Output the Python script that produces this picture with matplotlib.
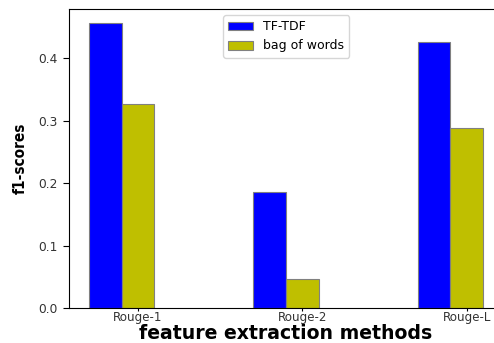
import matplotlib
matplotlib.use("Agg")
import matplotlib.pyplot as plt
import numpy as np

# scores
methods = ["Rouge-1", "Rouge-2", "Rouge-L"]
tfidf = [0.456, 0.185, 0.426]
bow = [0.327, 0.046, 0.289]

X = np.arange(len(methods))
w = 0.2

fig = plt.figure(figsize=(4.94, 3.43), dpi=100)
# axes runs past the right edge, like the cropped original
ax = fig.add_axes([69 / 494, 35 / 343, 434 / 494, 299 / 343])

ax.bar(X, tfidf, width=w, color="b", edgecolor="grey", linewidth=0.8, label="TF-TDF")
ax.bar(X + w, bow, width=w, color="y", edgecolor="grey", linewidth=0.8, label="bag of words")

ax.set_xticks(X + w)
ax.set_xticklabels(methods)
ax.tick_params(axis="x", labelsize=8.6, labelcolor="#333333", length=2, pad=0.5)
ax.tick_params(axis="y", labelsize=8.8, labelcolor="#333333", length=4, pad=4.5)

ax.set_xlabel("feature extraction methods", fontsize=13.6, fontweight="bold", labelpad=0)
ax.set_ylabel("f1-scores", fontsize=11, fontweight="bold", fontstretch="condensed",
              labelpad=7.6)

ax.legend(loc="upper center", fontsize=9)

fig.savefig("out.png", dpi=100)
